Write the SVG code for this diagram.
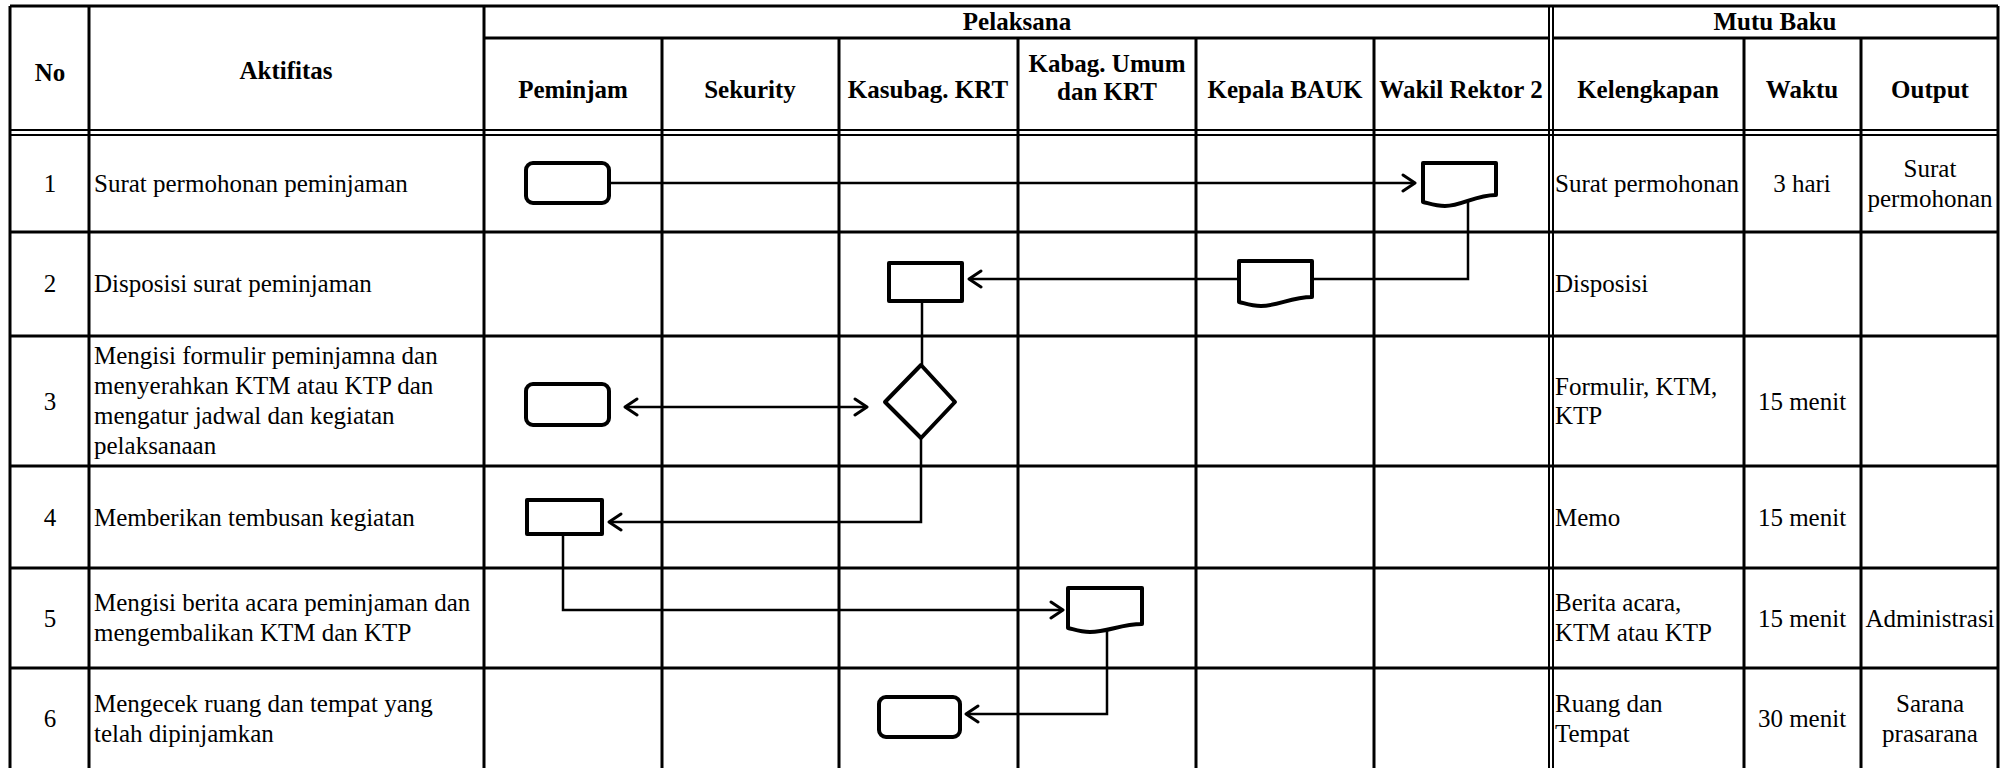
<svg xmlns="http://www.w3.org/2000/svg" width="2015" height="768" viewBox="0 0 2015 768">
<style>
.grid{stroke:#000;stroke-width:3;fill:none}
.dbl{stroke:#000;stroke-width:2;fill:none}
.shape{stroke:#000;stroke-width:4;fill:#fff;stroke-linejoin:round}
.conn{stroke:#000;stroke-width:2.5;fill:none}
.h{font-family:"Liberation Serif","Times New Roman",serif;font-size:25px;font-weight:bold;text-anchor:middle;fill:#000}
.t{font-family:"Liberation Serif","Times New Roman",serif;font-size:25px;fill:#000}
.c{text-anchor:middle}
</style>
<defs>
<marker id="arr" viewBox="0 0 16 20" refX="14" refY="10" markerWidth="16" markerHeight="20" markerUnits="userSpaceOnUse" orient="auto-start-reverse">
<path d="M2,2 L14,10 L2,18" fill="none" stroke="#000" stroke-width="3" stroke-linecap="round" stroke-linejoin="round"/>
</marker>
</defs>
<rect x="0" y="0" width="2015" height="768" fill="#fff"/>
<g id="table">
<path class="grid" d="M10,6 H1998 M484,38 H1549 M1553,38 H1998 M10,232 H1998 M10,336 H1998 M10,466 H1998 M10,568 H1998 M10,668 H1998"/>
<path class="dbl" d="M10,130 H1998 M10,135 H1998"/>
<path class="grid" d="M10,6 V790 M89,6 V790 M484,6 V790 M662,38 V790 M839,38 V790 M1018,38 V790 M1196,38 V790 M1374,38 V790 M1744,38 V790 M1861,38 V790 M1998,6 V790"/>
<path class="dbl" d="M1549,6 V790 M1553,6 V790"/>
</g>
<g id="headers">
<text class="h" x="50" y="81">No</text>
<text class="h" x="286" y="79">Aktifitas</text>
<text class="h" x="1017" y="30">Pelaksana</text>
<text class="h" x="1775" y="30">Mutu Baku</text>
<text class="h" x="573" y="98">Peminjam</text>
<text class="h" x="750" y="98">Sekurity</text>
<text class="h" x="928" y="98">Kasubag. KRT</text>
<text class="h" x="1107" y="72">Kabag. Umum</text>
<text class="h" x="1107" y="100">dan KRT</text>
<text class="h" x="1285" y="98">Kepala BAUK</text>
<text class="h" x="1461" y="98">Wakil Rektor 2</text>
<text class="h" x="1648" y="98">Kelengkapan</text>
<text class="h" x="1802" y="98">Waktu</text>
<text class="h" x="1930" y="98">Output</text>
</g>
<g id="row1">
<text class="t c" x="50" y="192">1</text>
<text class="t" x="94" y="192">Surat permohonan peminjaman</text>
<text class="t" x="1555" y="192">Surat permohonan</text>
<text class="t c" x="1802" y="192">3 hari</text>
<text class="t c" x="1930" y="177">Surat</text>
<text class="t c" x="1930" y="207">permohonan</text>
</g>
<g id="row2">
<text class="t c" x="50" y="292">2</text>
<text class="t" x="94" y="292">Disposisi surat peminjaman</text>
<text class="t" x="1555" y="292">Disposisi</text>
</g>
<g id="row3">
<text class="t c" x="50" y="410">3</text>
<text class="t" x="94" y="364">Mengisi formulir peminjamna dan</text>
<text class="t" x="94" y="394">menyerahkan KTM atau KTP dan</text>
<text class="t" x="94" y="424">mengatur jadwal dan kegiatan</text>
<text class="t" x="94" y="454">pelaksanaan</text>
<text class="t" x="1555" y="395">Formulir, KTM,</text>
<text class="t" x="1555" y="424">KTP</text>
<text class="t c" x="1802" y="410">15 menit</text>
</g>
<g id="row4">
<text class="t c" x="50" y="526">4</text>
<text class="t" x="94" y="526">Memberikan tembusan kegiatan</text>
<text class="t" x="1555" y="526">Memo</text>
<text class="t c" x="1802" y="526">15 menit</text>
</g>
<g id="row5">
<text class="t c" x="50" y="627">5</text>
<text class="t" x="94" y="611">Mengisi berita acara peminjaman dan</text>
<text class="t" x="94" y="641">mengembalikan KTM dan KTP</text>
<text class="t" x="1555" y="611">Berita acara,</text>
<text class="t" x="1555" y="641">KTM atau KTP</text>
<text class="t c" x="1802" y="627">15 menit</text>
<text class="t c" x="1930" y="627">Administrasi</text>
</g>
<g id="row6">
<text class="t c" x="50" y="727">6</text>
<text class="t" x="94" y="712">Mengecek ruang dan tempat yang</text>
<text class="t" x="94" y="742">telah dipinjamkan</text>
<text class="t" x="1555" y="712">Ruang dan</text>
<text class="t" x="1555" y="742">Tempat</text>
<text class="t c" x="1802" y="727">30 menit</text>
<text class="t c" x="1930" y="712">Sarana</text>
<text class="t c" x="1930" y="742">prasarana</text>
</g>
<g id="connectors">
<path class="conn" d="M609,183 H1415" marker-end="url(#arr)"/>
<path class="conn" d="M1468,200 V279 H1312"/>
<path class="conn" d="M1239,279 H969" marker-end="url(#arr)"/>
<path class="conn" d="M922,301 V365"/>
<path class="conn" d="M625,407 H867" marker-start="url(#arr)" marker-end="url(#arr)"/>
<path class="conn" d="M921,438 V522 H609" marker-end="url(#arr)"/>
<path class="conn" d="M563,534 V610 H1063" marker-end="url(#arr)"/>
<path class="conn" d="M1107,628 V714 H966" marker-end="url(#arr)"/>
</g>
<g id="n1-start"><rect class="shape" x="526" y="163" width="83" height="40" rx="7"/></g>
<g id="n1-wakil-doc"><path class="shape" d="M1423,163 H1496 V195 C1475,195 1462,206 1445,206 C1435,206 1428,203 1423,202 Z"/></g>
<g id="n2-kepala-doc"><path class="shape" d="M1239,261 H1312 V297 C1291,297 1278,306 1261,306 C1251,306 1244,303 1239,302 Z"/></g>
<g id="n2-kasubag"><rect class="shape" x="889" y="263" width="73" height="38"/></g>
<g id="n3-peminjam"><rect class="shape" x="526" y="384" width="83" height="41" rx="7"/></g>
<g id="n3-decision"><path class="shape" d="M921,365 L955,402 L921,438 L885,402 Z"/></g>
<g id="n4-peminjam"><rect class="shape" x="527" y="500" width="75" height="34"/></g>
<g id="n5-kabag-doc"><path class="shape" d="M1068,588 H1142 V624 C1121,624 1108,632 1090,632 C1080,632 1073,629 1068,628 Z"/></g>
<g id="n6-kasubag"><rect class="shape" x="879" y="697" width="81" height="40" rx="7"/></g>
</svg>
